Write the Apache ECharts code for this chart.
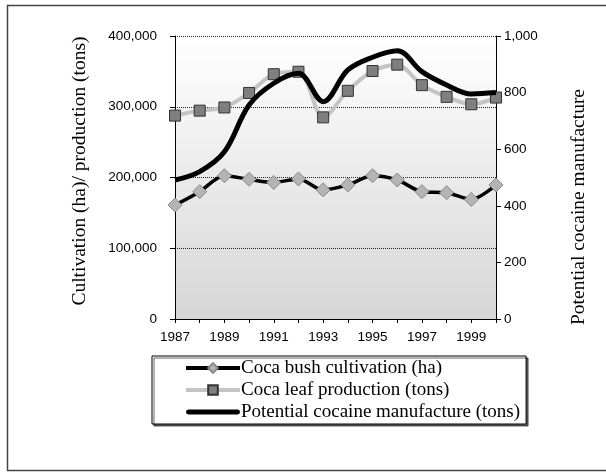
<!DOCTYPE html>
<html><head><meta charset="utf-8">
<script src="https://cdn.jsdelivr.net/npm/echarts@6/dist/echarts.min.js"></script>
<style>html,body{margin:0;padding:0;background:#fff}#c{width:606px;height:472px}</style>
</head><body><div id="c"></div>
<script>
const years = ['1987','1988','1989','1990','1991','1992','1993','1994','1995','1996','1997','1998','1999','2000'];
const cultivation = [161000,180000,202500,197500,193000,198000,182500,189500,202500,196500,180000,178500,169000,189500];
const leafProduction = [287500,294500,299000,319500,346000,349500,285000,322500,350500,359500,330500,314000,303500,313000];
const cocaine = [491,521,591,756,833,868,768,880,925,948,874,827,795,800];
const leftTicks = [0,100000,200000,300000,400000];
const rightTicks = [0,200,400,600,800,1000];

const chart = echarts.init(document.getElementById('c'), null, {renderer:'canvas'});
const fmt = v => v.toLocaleString('en-US');
chart.setOption({
  animation:false,
  backgroundColor:'#fff',
  graphic:[
    {type:'rect', shape:{x:7.5,y:5.5,width:610,height:465}, style:{fill:'none',stroke:'#444',lineWidth:1.5}, silent:true},
    {type:'text', x:80, y:171, rotation:Math.PI/2, style:{text:'Cultivation (ha)/ production (tons)', font:'19.5px "Liberation Serif"', fill:'#000', align:'center', verticalAlign:'middle'}},
    {type:'text', x:579, y:207, rotation:Math.PI/2, style:{text:'Potential cocaine manufacture', font:'19.5px "Liberation Serif"', fill:'#000', align:'center', verticalAlign:'middle'}}
  ],
  grid:{left:175,right:110,top:36,bottom:153,show:true,borderWidth:0,
    backgroundColor:new echarts.graphic.LinearGradient(0,0,0,1,[{offset:0,color:'#ffffff'},{offset:1,color:'#d6d6d6'}])},
  legend:{
    orient:'vertical', left:152, top:356,
    padding:[1,6,1,32], itemGap:0, itemWidth:54, itemHeight:12,
    borderColor:'#000', borderWidth:1, backgroundColor:'#fff',
    shadowColor:'rgba(0,0,0,0.6)', shadowOffsetX:2, shadowOffsetY:2, shadowBlur:0,
    textStyle:{fontFamily:'Liberation Serif', fontSize:19, lineHeight:22, color:'#000', padding:[0,0,0,-4]},
    data:[
      {name:'Coca bush cultivation (ha)', lineStyle:{width:4,color:'#000'}},
      {name:'Coca leaf production (tons)', lineStyle:{width:4,color:'#c4c4c4'}},
      {name:'Potential cocaine manufacture (tons)', icon:'path://M2,0 L52,0 A2.5,2.5 0 0 1 52,5 L2,5 A2.5,2.5 0 0 1 2,0 Z'}
    ]
  },
  xAxis:{type:'category', data:years, boundaryGap:false,
    axisLine:{lineStyle:{color:'#000',width:1}},
    axisTick:{interval:0,length:4,lineStyle:{color:'#000'}},
    axisLabel:{interval:1,color:'#000',fontFamily:'Liberation Sans',fontSize:13.5,margin:11},
    splitLine:{show:false}},
  yAxis:[
    {type:'value', min:0, max:400000, interval:100000,
      axisLine:{show:true,lineStyle:{color:'#000'}},
      axisTick:{show:true,length:5,lineStyle:{color:'#000'}},
      axisLabel:{color:'#000',fontFamily:'Liberation Sans',fontSize:13.5,margin:18,formatter:v=>fmt(v)},
      splitLine:{show:true,lineStyle:{color:'#222',type:[1,1],width:1}}},
    {type:'value', min:0, max:1000, interval:200, position:'right',
      axisLine:{show:true,lineStyle:{color:'#000'}},
      axisTick:{show:true,length:5,inside:false,lineStyle:{color:'#000'}},
      axisLabel:{color:'#000',fontFamily:'Liberation Sans',fontSize:13.5,margin:8,formatter:v=>fmt(v)},
      splitLine:{show:false}}
  ],
  series:[
    {name:'Potential cocaine manufacture (tons)', type:'line', yAxisIndex:1, data:cocaine, smooth:0.35,
      symbol:'none', lineStyle:{color:'#000',width:5}, itemStyle:{color:'#000'}, z:3},
    {name:'Coca leaf production (tons)', type:'line', yAxisIndex:0, data:leafProduction, smooth:0.3,
      symbol:'rect', symbolSize:11, lineStyle:{color:'#c4c4c4',width:4},
      itemStyle:{color:'#7f7f7f',borderColor:'#333',borderWidth:1}, z:2},
    {name:'Coca bush cultivation (ha)', type:'line', yAxisIndex:0, data:cultivation, smooth:0.3,
      symbol:'diamond', symbolSize:[14,14], lineStyle:{color:'#000',width:3.5},
      itemStyle:{color:'#b4b4b4',borderColor:'#888',borderWidth:1}, z:4}
  ]
});
</script></body></html>
